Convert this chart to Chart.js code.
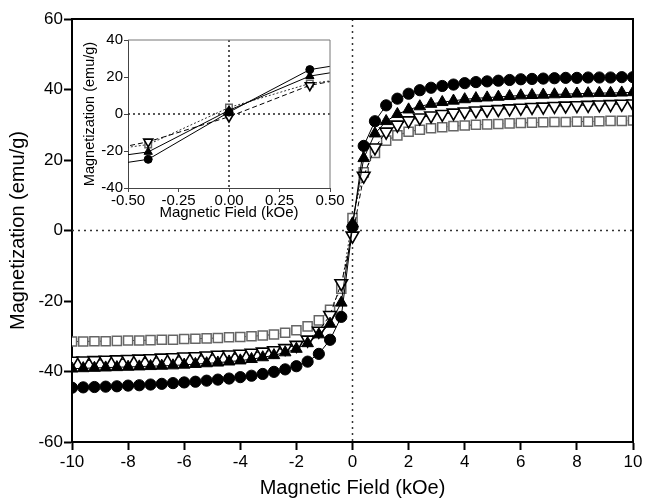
<!DOCTYPE html>
<html>
<head>
<meta charset="utf-8">
<script src="https://cdn.jsdelivr.net/npm/chart.js@4.4.1/dist/chart.umd.min.js"></script>
<style>
  body { margin: 0; background: #fff; }
  #wrap { position: relative; width: 646px; height: 500px; }
  #main { position: absolute; left: 0; top: 0; }
  #inset { position: absolute; left: 80px; top: 24px; }
</style>
</head>
<body>
<div id="wrap">
  <canvas id="main" width="646" height="500"></canvas>
  <canvas id="inset" width="270" height="200"></canvas>
</div>
<script>
// field values (kOe), one measurement every 0.4 kOe
var field = [-10, -9.6, -9.2, -8.8, -8.4, -8, -7.6, -7.2, -6.8, -6.4, -6, -5.6, -5.2, -4.8, -4.4,
  -4, -3.6, -3.2, -2.8, -2.4, -2, -1.6, -1.2, -0.8, -0.4, 0, 0.4, 0.8, 1.2, 1.6, 2, 2.4, 2.8,
  3.2, 3.6, 4, 4.4, 4.8, 5.2, 5.6, 6, 6.4, 6.8, 7.2, 7.6, 8, 8.4, 8.8, 9.2, 9.6, 10];

// magnetization (emu/g)
var filledCircles = [-44.6, -44.5, -44.4, -44.3, -44.2, -44.0, -43.9, -43.7, -43.5, -43.3, -43.1, -42.9, -42.6, -42.3, -42.0,
  -41.6, -41.2, -40.7, -40.1, -39.4, -38.5, -37.2, -35.0, -31.0, -24.5, 1.0, 24.0, 31.0, 35.5, 37.4, 38.8, 39.8, 40.5,
  41.0, 41.4, 41.8, 42.1, 42.3, 42.5, 42.7, 42.9, 43.0, 43.1, 43.2, 43.3, 43.3, 43.4, 43.4, 43.4, 43.5, 43.5];
var filledTriangles = [-39.2, -39.1, -39.0, -38.9, -38.8, -38.7, -38.6, -38.5, -38.4, -38.3, -38.1, -37.9, -37.7, -37.5, -37.2,
  -36.9, -36.5, -36.0, -35.4, -34.6, -33.6, -32.0, -29.5, -26.5, -20.5, 2.0, 20.5, 27.5, 31.0, 33.0, 34.3, 35.2, 35.9,
  36.4, 36.8, 37.2, 37.5, 37.7, 37.9, 38.1, 38.3, 38.4, 38.5, 38.6, 38.7, 38.8, 38.9, 39.0, 39.0, 39.1, 39.2];
var openTrianglesDown = [-37.0, -36.9, -36.8, -36.7, -36.6, -36.5, -36.4, -36.3, -36.1, -36.0, -35.8, -35.7, -35.5, -35.3, -35.2,
  -35.0, -34.7, -34.4, -34.0, -33.4, -32.5, -31.0, -28.5, -24.0, -15.0, -1.5, 15.5, 23.5, 28.0, 30.0, 31.2, 32.0, 32.6,
  33.0, 33.4, 33.7, 34.0, 34.2, 34.4, 34.6, 34.8, 35.0, 35.1, 35.3, 35.4, 35.5, 35.6, 35.7, 35.8, 35.9, 36.0];
var openSquares = [-31.5, -31.5, -31.4, -31.4, -31.3, -31.2, -31.2, -31.1, -31.0, -31.0, -30.8, -30.7, -30.6, -30.5, -30.3,
  -30.2, -30.0, -29.8, -29.5, -29.0, -28.3, -27.2, -25.5, -22.5, -16.5, 3.5, 16.5, 22.0, 25.5, 27.0, 28.0, 28.6, 29.0,
  29.3, 29.6, 29.8, 30.0, 30.1, 30.2, 30.4, 30.5, 30.6, 30.7, 30.8, 30.8, 30.9, 30.9, 31.0, 31.1, 31.1, 31.2];

// axis ticks
var mainXTicks = [-10, -8, -6, -4, -2, 0, 2, 4, 6, 8, 10];
var mainYTicks = [-60, -40, -20, 0, 20, 40, 60];
var insetXTicks = [-0.5, -0.25, 0, 0.25, 0.5];
var insetXTickLabels = ['-0.50', '-0.25', '0.00', '0.25', '0.50'];
var insetYTicks = [-40, -20, 0, 20, 40];

var FONT = "'Liberation Sans', Arial, Helvetica, sans-serif";

function points(ys) {
  return field.map(function (x, i) { return { x: x, y: ys[i] }; });
}

// one style per sample; r is marker radius, used smaller in the inset
function makeDatasets(r) {
  return [
    { data: points(filledCircles), pointStyle: 'circle', pointRadius: r,
      pointBackgroundColor: '#000', pointBorderColor: '#000', borderColor: '#000', borderWidth: 1 },
    { data: points(filledTriangles), pointStyle: 'triangle', pointRadius: r * 1.2,
      pointBackgroundColor: '#000', pointBorderColor: '#000', borderColor: '#000', borderWidth: 1 },
    { data: points(openTrianglesDown), pointStyle: 'triangle', pointRotation: 180, pointRadius: r * 1.3,
      pointBackgroundColor: '#fff', pointBorderColor: '#000', pointBorderWidth: 1.6,
      borderColor: '#000', borderWidth: 1, borderDash: [5, 3] },
    { data: points(openSquares), pointStyle: 'rect', pointRadius: r * 1.15,
      pointBackgroundColor: '#fff', pointBorderColor: '#666', pointBorderWidth: 1.5,
      borderColor: '#333', borderWidth: 1, borderDash: [2, 2] }
  ].map(function (d) {
    d.showLine = true;
    d.tension = 0;
    return d;
  });
}

// box around the plot plus the dotted zero lines
var framePlugin = {
  id: 'frame',
  beforeDatasetsDraw: function (chart, args, opts) {
    var ctx = chart.ctx, a = chart.chartArea;
    var x0 = chart.scales.x.getPixelForValue(0);
    var y0 = chart.scales.y.getPixelForValue(0);
    ctx.save();
    ctx.strokeStyle = opts.dotColor;
    ctx.lineWidth = opts.dotWidth;
    ctx.setLineDash(opts.dash);
    ctx.beginPath();
    ctx.moveTo(x0, a.top); ctx.lineTo(x0, a.bottom);
    ctx.moveTo(a.left, y0); ctx.lineTo(a.right, y0);
    ctx.stroke();
    ctx.restore();
  },
  afterDraw: function (chart, args, opts) {
    var ctx = chart.ctx, a = chart.chartArea;
    ctx.save();
    ctx.strokeStyle = opts.boxColor;
    ctx.lineWidth = opts.boxWidth;
    ctx.beginPath();
    ctx.moveTo(a.left, a.top); ctx.lineTo(a.right, a.top); ctx.lineTo(a.right, a.bottom);
    ctx.stroke();
    ctx.restore();
  }
};

function setTicks(values) {
  return function (scale) {
    scale.ticks = values.map(function (v) { return { value: v }; });
  };
}

new Chart(document.getElementById('main'), {
  type: 'scatter',
  data: { datasets: makeDatasets(5.6) },
  plugins: [framePlugin],
  options: {
    responsive: false,
    devicePixelRatio: 1,
    animation: false,
    layout: { padding: { top: 19, right: 13, left: 0, bottom: 0 } },
    plugins: {
      legend: { display: false },
      tooltip: { enabled: false },
      frame: { dotColor: '#333', dotWidth: 1.5, dash: [2, 4], boxColor: '#000', boxWidth: 2 }
    },
    scales: {
      x: {
        type: 'linear', min: -10, max: 10,
        afterBuildTicks: setTicks(mainXTicks),
        afterFit: function (s) { s.height = 58; },
        border: { display: true, color: '#000', width: 2 },
        grid: { drawOnChartArea: false, drawTicks: true, tickLength: 8, tickWidth: 2, tickColor: '#000' },
        ticks: { color: '#000', padding: 2, maxRotation: 0, font: { family: FONT, size: 17 } },
        title: { display: true, text: 'Magnetic Field (kOe)', color: '#000',
          padding: { top: 0, bottom: 0 }, font: { family: FONT, size: 20 } }
      },
      y: {
        type: 'linear', min: -60, max: 60,
        afterBuildTicks: setTicks(mainYTicks),
        afterFit: function (s) { s.width = 72; },
        border: { display: true, color: '#000', width: 2 },
        grid: { drawOnChartArea: false, drawTicks: true, tickLength: 8, tickWidth: 2, tickColor: '#000' },
        ticks: { color: '#000', padding: 1, font: { family: FONT, size: 17 } },
        title: { display: true, text: 'Magnetization (emu/g)', color: '#000',
          padding: { top: 6, bottom: 0 }, font: { family: FONT, size: 20 } }
      }
    }
  }
});

new Chart(document.getElementById('inset'), {
  type: 'scatter',
  data: { datasets: makeDatasets(4) },
  plugins: [framePlugin],
  options: {
    responsive: false,
    devicePixelRatio: 1,
    animation: false,
    layout: { padding: { top: 16, right: 20, left: 0, bottom: 0 } },
    plugins: {
      legend: { display: false },
      tooltip: { enabled: false },
      frame: { dotColor: '#222', dotWidth: 1.5, dash: [2, 3], boxColor: '#777', boxWidth: 1 }
    },
    scales: {
      x: {
        type: 'linear', min: -0.5, max: 0.5,
        afterBuildTicks: setTicks(insetXTicks),
        afterFit: function (s) { s.height = 36; },
        border: { display: true, color: '#444', width: 1 },
        grid: { drawOnChartArea: false, drawTicks: true, tickLength: 4, tickWidth: 1, tickColor: '#444' },
        ticks: { color: '#000', padding: 0, maxRotation: 0, font: { family: FONT, size: 15 },
          callback: function (v, i) { return insetXTickLabels[i]; } },
        title: { display: true, text: 'Magnetic Field (kOe)', color: '#000',
          padding: { top: 0, bottom: 2 }, font: { family: FONT, size: 15 } }
      },
      y: {
        type: 'linear', min: -40, max: 40,
        afterBuildTicks: setTicks(insetYTicks),
        afterFit: function (s) { s.width = 48; },
        border: { display: true, color: '#444', width: 1 },
        grid: { drawOnChartArea: false, drawTicks: true, tickLength: 4, tickWidth: 1, tickColor: '#444' },
        ticks: { color: '#000', padding: 1, font: { family: FONT, size: 15 } },
        title: { display: true, text: 'Magnetization (emu/g)', color: '#000',
          padding: { top: 1, bottom: 0 }, font: { family: FONT, size: 14.5 } }
      }
    }
  }
});
</script>
</body>
</html>
